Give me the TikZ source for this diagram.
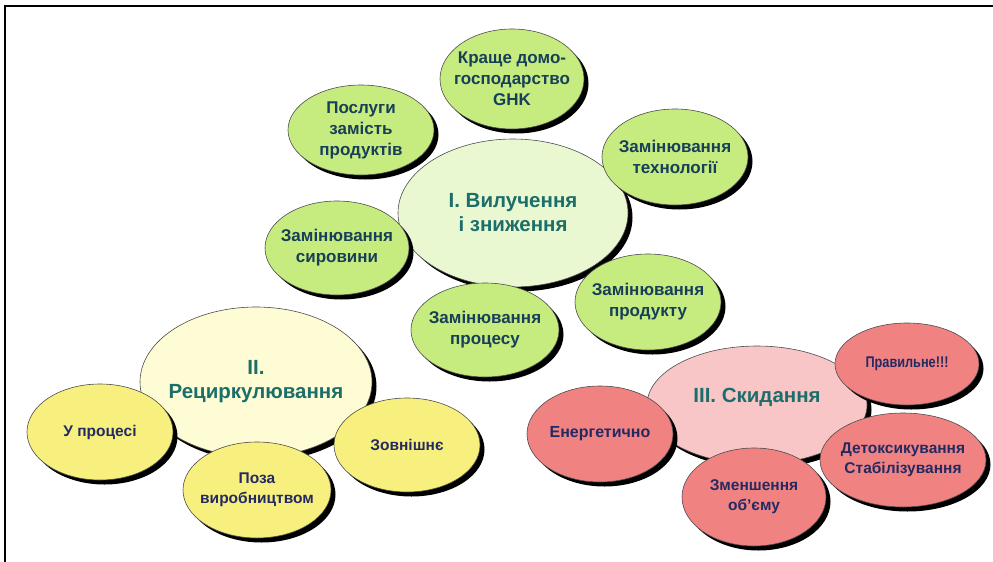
\documentclass[tikz,border=0pt]{standalone}
\usepackage{fontspec}
\setmainfont{Liberation Sans}
\newfontfamily\narrowfont[FakeStretch=0.82]{Liberation Sans}
\usetikzlibrary{shadows,shapes.geometric}
\definecolor{gcen}{HTML}{EAF8D2}
\definecolor{gsat}{HTML}{C6EC80}
\definecolor{ycen}{HTML}{FDFCD4}
\definecolor{ysat}{HTML}{F8F07E}
\definecolor{rcen}{HTML}{F8C6C6}
\definecolor{rsat}{HTML}{F08282}
\definecolor{tcen}{HTML}{1B6E6A}
\definecolor{tsat}{HTML}{173F58}
\definecolor{tnavy}{HTML}{232A62}
\tikzset{
  bub/.style={ellipse, draw=black!70, line width=0.6pt, inner sep=-12pt, align=center,
    drop shadow={shadow xshift=4.5pt, shadow yshift=-4.5pt, fill=black, opacity=1}},
  cen/.style={bub, text=tcen, font=\fontsize{20.5}{24}\selectfont\bfseries},
  gs/.style={bub, fill=gsat, text=tsat, font=\fontsize{17}{21}\selectfont\bfseries},
  ys/.style={bub, fill=ysat, text=tnavy, font=\fontsize{15.5}{20}\selectfont\bfseries},
  rs/.style={bub, fill=rsat, text=tnavy, font=\fontsize{15.5}{20}\selectfont\bfseries},
  frameline/.style={line width=2pt, black}
}
\begin{document}
\begin{tikzpicture}[x=1pt,y=-1pt]
\useasboundingbox (0,0) rectangle (993,562);
\coordinate (tl) at (4.5,6);
\coordinate (tr) at (993,6);
\coordinate (bl) at (4.5,562);
\draw[frameline] (tr) -- (tl) -- (bl);
% Group I
\node[cen, fill=gcen, minimum width=230pt, minimum height=148pt] (c1) at (513,213) {I. Вилучення\\і зниження};
\node[gs, minimum width=144pt, minimum height=100pt] (g1) at (512,79) {Краще домо-\\господарство\\GHK};
\node[gs, minimum width=146pt, minimum height=90pt] (g2) at (361,130) {Послуги\\замість\\продуктів};
\node[gs, minimum width=146pt, minimum height=96pt] (g3) at (675,157) {Замінювання\\технології};
\node[gs, minimum width=144pt, minimum height=94pt] (g4) at (337,248) {Замінювання\\сировини};
\node[gs, minimum width=148pt, minimum height=94pt] (g5) at (485,330) {Замінювання\\процесу};
\node[gs, minimum width=146pt, minimum height=96pt] (g6) at (648,302) {Замінювання\\продукту};
% Group II
\node[cen, fill=ycen, minimum width=232pt, minimum height=150pt] (c2) at (256,382) {II.\\Рециркулювання};
\node[ys, minimum width=146pt, minimum height=96pt] (y1) at (100,432) {У процесі};
\node[ys, minimum width=146pt, minimum height=94pt] (y3) at (407,445) {Зовнішнє};
\node[ys, minimum width=148pt, minimum height=96pt] (y2) at (257,490) {Поза\\виробництвом};
% Group III
\node[cen, fill=rcen, minimum width=220pt, minimum height=118pt] (c3) at (757,405) {III. Скидання\\[-4pt]};
\node[rs, minimum width=144pt, minimum height=82pt, font=\fontsize{15.5}{18}\narrowfont\bfseries] (r1) at (907,364) {Правильне!!!};
\node[rs, minimum width=146pt, minimum height=96pt, font=\fontsize{16}{20}\selectfont\bfseries] (r2) at (600,434) {Енергетично};
\node[rs, minimum width=166pt, minimum height=94pt] (r4) at (903,460) {Детоксикування\\Стабілізування};
\node[rs, minimum width=144pt, minimum height=98pt] (r3) at (754,497) {Зменшення\\об'єму};
\end{tikzpicture}
\end{document}
